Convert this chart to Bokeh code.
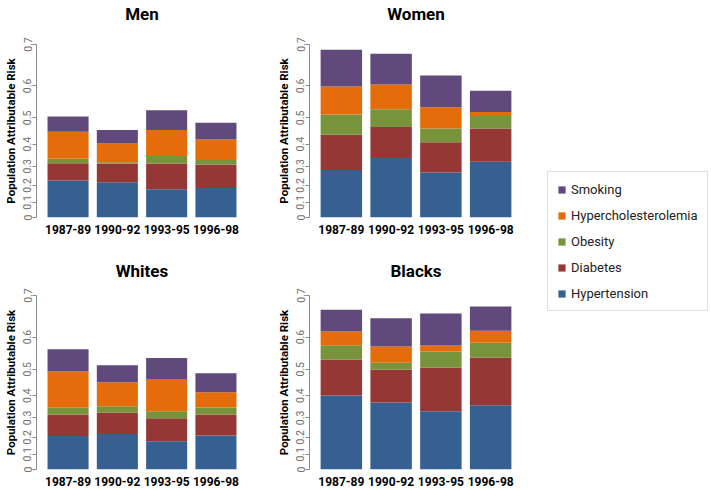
import math
from bokeh.plotting import figure
from bokeh.layouts import row, column
from bokeh.models import (FactorRange, Range1d, FixedTicker, CustomJSTickFormatter,
                          Legend, LegendItem, CategoricalAxis)
from bokeh.embed import file_html
from bokeh.resources import INLINE

periods = ["1987-89", "1990-92", "1993-95", "1996-98"]
factors = ["Hypertension", "Diabetes", "Obesity", "Hypercholesterolemia", "Smoking"]
colors = ["#376092", "#953735", "#77933C", "#E46C0A", "#604A7B"]
y_tick_values = [0, 0.1, 0.2, 0.3, 0.4, 0.5, 0.6, 0.7]

# Cumulative population attributable risk after adding each factor (bottom to top)
men = {
    "Hypertension": [0.227, 0.218, 0.178, 0.186],
    "Diabetes": [0.314, 0.313, 0.313, 0.309],
    "Obesity": [0.336, 0.319, 0.348, 0.330],
    "Hypercholesterolemia": [0.449, 0.403, 0.456, 0.419],
    "Smoking": [0.505, 0.456, 0.526, 0.483],
}
women = {
    "Hypertension": [0.282, 0.339, 0.269, 0.322],
    "Diabetes": [0.438, 0.467, 0.408, 0.462],
    "Obesity": [0.512, 0.529, 0.462, 0.507],
    "Hypercholesterolemia": [0.598, 0.604, 0.536, 0.520],
    "Smoking": [0.689, 0.680, 0.628, 0.586],
}
whites = {
    "Hypertension": [0.207, 0.218, 0.178, 0.209],
    "Diabetes": [0.316, 0.325, 0.298, 0.316],
    "Obesity": [0.348, 0.354, 0.332, 0.349],
    "Hypercholesterolemia": [0.492, 0.453, 0.465, 0.414],
    "Smoking": [0.565, 0.514, 0.538, 0.486],
}
blacks = {
    "Hypertension": [0.401, 0.371, 0.332, 0.359],
    "Diabetes": [0.532, 0.499, 0.506, 0.539],
    "Obesity": [0.577, 0.522, 0.558, 0.584],
    "Hypercholesterolemia": [0.615, 0.573, 0.576, 0.617],
    "Smoking": [0.669, 0.649, 0.660, 0.676],
}


def tr(v):
    # axis is scaled as -log(1 - PAR), so that combined risks stack additively
    return -math.log(1.0 - v)


FONT = "Roboto"
Y_TOP = tr(max(y_tick_values))


def panel(title, data, width, height, bl, br, bt, bb, title_standoff):
    p = figure(width=width, height=height, x_range=FactorRange(*periods),
               y_range=Range1d(0, Y_TOP), title=None,
               toolbar_location=None, output_backend="svg",
               min_border_left=bl, min_border_right=br,
               min_border_top=bt, min_border_bottom=bb)
    p.x_range.range_padding = 0.14
    p.x_range.range_padding_units = "absolute"
    prev = [0.0] * len(periods)
    for f, c in zip(factors, colors):
        cur = data[f]
        p.vbar(x=periods, bottom=[tr(v) for v in prev], top=[tr(v) for v in cur],
               width=0.833, fill_color=c, line_color=None)
        prev = cur

    # panel title drawn as the label of an otherwise invisible top axis
    ta = CategoricalAxis(axis_label=title, axis_label_standoff=title_standoff,
                         axis_label_text_font=FONT, axis_label_text_font_size="17px",
                         axis_label_text_font_style="bold", axis_label_text_color="black",
                         axis_line_color=None, major_tick_line_color=None,
                         minor_tick_line_color=None, major_tick_out=0, major_tick_in=0,
                         major_label_text_font_size="0px", major_label_standoff=0,
                         major_label_text_alpha=0)
    p.add_layout(ta, "above")

    p.outline_line_color = None
    p.grid.visible = False
    p.background_fill_color = "white"

    xa = p.below[0]
    xa.axis_line_color = None
    xa.major_tick_line_color = None
    xa.minor_tick_line_color = None
    xa.major_tick_out = 0
    xa.major_tick_in = 0
    xa.major_label_standoff = 7
    xa.major_label_text_font = FONT
    xa.major_label_text_font_style = "bold"
    xa.major_label_text_font_size = "12px"
    xa.major_label_text_color = "black"

    ya = p.left[0]
    ya.ticker = FixedTicker(ticks=[tr(v) for v in y_tick_values])
    ya.formatter = CustomJSTickFormatter(code="""
        const v = Math.round((1 - Math.exp(-tick)) * 10) / 10;
        return v === 0 ? "0" : v.toFixed(1);
    """)
    ya.minor_tick_line_color = None
    ya.major_tick_out = 4
    ya.major_tick_in = 0
    ya.axis_line_color = "#8a8a8a"
    ya.major_tick_line_color = "#8a8a8a"
    ya.major_label_orientation = "vertical"
    ya.major_label_text_font = FONT
    ya.major_label_text_font_size = "10.5px"
    ya.major_label_text_color = "#6e6e6e"
    ya.major_label_standoff = 1
    ya.axis_label = "Population Attributable Risk"
    ya.axis_label_text_font = FONT
    ya.axis_label_text_font_style = "bold"
    ya.axis_label_text_font_size = "11.5px"
    ya.axis_label_text_color = "black"
    ya.axis_label_standoff = 3
    return p


p_men = panel("Men", men, 270, 245, 34, 23, 43, 28, 21)
p_women = panel("Women", women, 265, 245, 39, 13, 43, 28, 21)
p_whites = panel("Whites", whites, 270, 244, 34, 23, 50, 20, 15)
p_blacks = panel("Blacks", blacks, 265, 244, 39, 13, 50, 20, 15)

lf = figure(width=175, height=489, toolbar_location=None, output_backend="svg",
            x_range=Range1d(0, 1), y_range=Range1d(0, 1), min_border=0)
lf.axis.visible = False
lf.grid.visible = False
lf.outline_line_color = None
items = []
for f, c in zip(factors, colors):
    # zero-area swatch renderer: only its fill style is used by the legend
    r = lf.quad(left=[0], right=[0], top=[0], bottom=[0], fill_color=c, line_color=None)
    items.append(LegendItem(label=f, renderers=[r]))
items.reverse()
leg = Legend(items=items, location=(12, 178), orientation="vertical",
             glyph_width=9, glyph_height=9, label_height=16, spacing=10,
             padding=9, label_standoff=5,
             label_text_font=FONT, label_text_font_size="13px", label_text_color="#222222",
             border_line_color="#c0c0c0", border_line_width=1,
             background_fill_color="white", background_fill_alpha=1.0)
lf.add_layout(leg)

layout = row(column(p_men, p_whites), column(p_women, p_blacks), lf)

with open("out.html", "w") as fh:
    fh.write(file_html(layout, INLINE))
